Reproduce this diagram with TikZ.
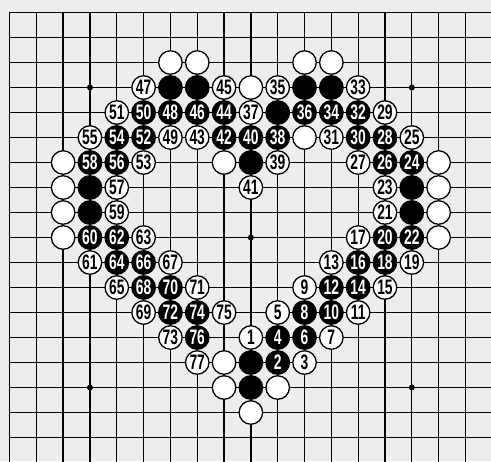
\documentclass[tikz,border=0pt]{standalone}
\usepackage{fontspec}
\newfontfamily\stonefont{Liberation Sans}
\definecolor{bgpaper}{RGB}{238,236,238}
\tikzset{
  gridline/.style={line width=1.3pt, black},
  stonebase/.style={circle, minimum size=23.5pt, inner sep=0pt, line width=1.3pt,
    font=\stonefont\bfseries\fontsize{21}{21}\selectfont},
  wstone/.style={stonebase, draw=black, fill=white, text=black},
  bstone/.style={stonebase, draw=black, fill=black, text=white},
  hoshi/.style={circle, fill=black, inner sep=0pt, minimum size=6pt}
}
\newcommand{\stnum}[1]{\scalebox{0.66}[1]{#1}}
\begin{document}
\begin{tikzpicture}[x=26.82pt,y=-25pt]
\useasboundingbox (-0.354,-0.5) rectangle (17.953,17.94);
\clip (-0.354,-0.5) rectangle (17.953,17.94);
\fill[bgpaper] (-0.354,-0.5) rectangle (17.953,17.94);
% grid
\foreach \k in {0,...,18} {
  \draw[gridline] (0,\k) -- (18,\k);
  \draw[gridline] (\k,0) -- (\k,18);
}
% star points
\foreach \a in {3,9,15} \foreach \b in {3,9,15}
  \node[hoshi] (h\a-\b) at (\a,\b) {};
% plain white stones
\foreach \c/\r in {6/2,7/2,11/2,12/2,9/3,11/5,2/6,8/6,16/6,2/7,16/7,2/8,16/8,2/9,16/9,8/14,8/15,10/15,9/16}
  \node[wstone] (pw\c-\r) at (\c,\r) {};
% plain black stones
\foreach \c/\r in {6/3,7/3,11/3,12/3,10/4,9/6,3/7,15/7,3/8,15/8,9/14,9/15}
  \node[bstone] (pb\c-\r) at (\c,\r) {};
% numbered white stones
\foreach \t/\c/\r in {1/9/13,3/11/14,5/10/12,7/12/13,9/11/11,11/13/12,13/12/10,15/14/11,
  17/13/9,19/15/10,21/14/8,23/14/7,25/15/5,27/13/6,29/14/4,31/12/5,33/13/3,35/10/3,
  37/9/4,39/10/6,41/9/7,43/7/5,45/8/3,47/5/3,49/6/5,51/4/4,53/5/6,55/3/5,57/4/7,
  59/4/8,61/3/10,63/5/9,65/4/11,67/6/10,69/5/12,71/7/11,73/6/13,75/8/12,77/7/14}
  \node[wstone] (m\t) at (\c,\r) {\stnum{\t}};
% numbered black stones
\foreach \t/\c/\r in {2/10/14,4/10/13,6/11/13,8/11/12,10/12/12,12/12/11,14/13/11,16/13/10,
  18/14/10,20/14/9,22/15/9,24/15/6,26/14/6,28/14/5,30/13/5,32/13/4,34/12/4,36/11/4,
  38/10/5,40/9/5,42/8/5,44/8/4,46/7/4,48/6/4,50/5/4,52/5/5,54/4/5,56/4/6,58/3/6,
  60/3/9,62/4/9,64/4/10,66/5/10,68/5/11,70/6/11,72/6/12,74/7/12,76/7/13}
  \node[bstone] (m\t) at (\c,\r) {\stnum{\t}};
\end{tikzpicture}
\end{document}
